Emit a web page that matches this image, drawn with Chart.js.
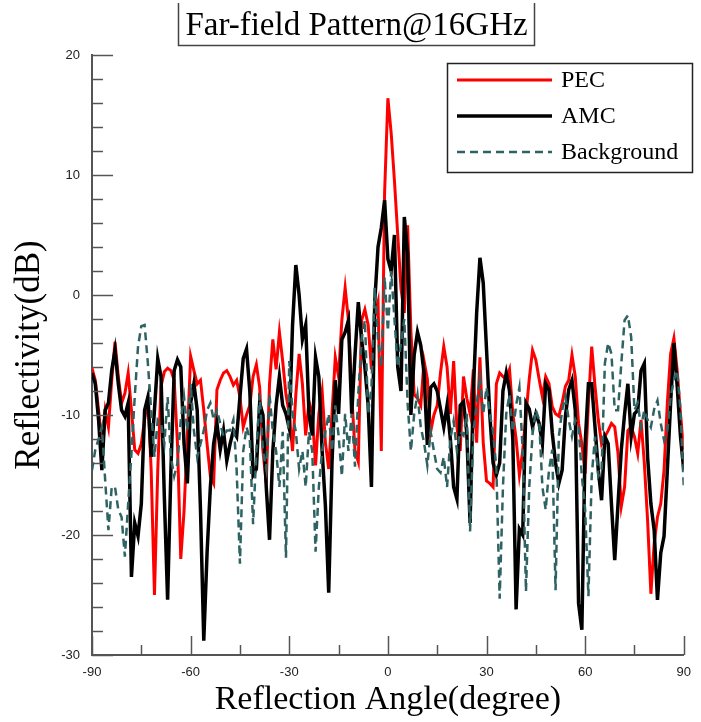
<!DOCTYPE html>
<html>
<head>
<meta charset="utf-8">
<title>Far-field Pattern@16GHz</title>
<script src="https://cdn.jsdelivr.net/npm/chart.js@4.4.1/dist/chart.umd.min.js"></script>
<style>
  html, body { margin: 0; padding: 0; background: #ffffff; }
  #wrap { width: 701px; height: 722px; position: relative; }
  canvas { display: block; }
</style>
</head>
<body>
<div id="wrap"><canvas id="c" width="701" height="722"></canvas></div>
<script>
// Reflection angle samples (degree)
const angles = [
  -90,-89,-88,-87,-86,-85,-84,-83,-82,-81,-80,-79,-78,-77,-76,-75,-74,-73,-72,-71,
  -70,-69,-68,-67,-66,-65,-64,-63,-62,-61,-60,-59,-58,-57,-56,-55,-54,-53,-52,-51,
  -50,-49,-48,-47,-46,-45,-44,-43,-42,-41,-40,-39,-38,-37,-36,-35,-34,-33,-32,-31,
  -30,-29,-28,-27,-26,-25,-24,-23,-22,-21,-20,-19,-18,-17,-16,-15,-14,-13,-12,-11,
  -10,-9,-8,-7,-6,-5,-4,-3,-2,-1,0,1,2,3,4,5,6,7,8,9,
  10,11,12,13,14,15,16,17,18,19,20,21,22,23,24,25,26,27,28,29,
  30,31,32,33,34,35,36,37,38,39,40,41,42,43,44,45,46,47,48,49,
  50,51,52,53,54,55,56,57,58,59,60,61,62,63,64,65,66,67,68,69,
  70,71,72,73,74,75,76,77,78,79,80,81,82,83,84,85,86,87,88,89,90
];

// PEC reflectivity (dB)
const pec = [
  -6.1,-7.1,-9.6,-12.4,-9.6,-11.0,-7.1,-3.9,-6.8,-9.0,-8.2,-6.5,-9.6,-12.9,-13.2,-12.4,-10.4,-8.5,-14.6,-25.0,
  -14.6,-7.6,-6.4,-6.1,-6.3,-7.1,-12.4,-22.0,-18.0,-11.8,-5.1,-6.3,-7.4,-7.1,-9.6,-12.4,-15.1,-15.7,-7.9,-7.1,
  -6.5,-6.3,-6.8,-7.5,-7.1,-8.5,-11.0,-10.0,-9.2,-6.8,-5.8,-7.7,-13.0,-15.7,-7.4,-3.7,-6.2,-3.1,-5.5,-8.3,
  -9.9,-13.0,-8.3,-4.9,-7.4,-11.7,-8.9,-9.9,-14.2,-9.9,-8.0,-12.3,-14.5,-9.9,-5.2,-6.8,-2.1,0.6,-2.1,-8.3,
  -13.0,-13.9,-2.1,-1.2,-2.5,-6.2,-1.8,-0.6,-13.0,8.5,16.4,13.5,9.5,5.0,0.5,-1.5,5.8,-3.0,-8.3,-8.6,
  -9.2,-5.5,-7.0,-11.4,-10.0,-9.2,-6.5,-4.3,-6.0,-9.9,-5.5,-11.0,-13.0,-6.8,-8.6,-9.9,-6.2,-12.3,-5.2,-12.3,
  -15.5,-15.7,-16.0,-7.4,-6.5,-6.8,-7.0,-6.2,-9.9,-12.0,-15.0,-13.0,-10.0,-7.0,-4.6,-5.4,-7.0,-8.5,-6.8,-7.4,
  -9.3,-9.9,-10.1,-9.0,-7.6,-7.1,-5.0,-6.8,-10.7,-12.4,-14.9,-9.0,-4.3,-7.6,-10.4,-12.4,-11.8,-11.3,-10.7,-11.0,
  -13.2,-17.6,-16.0,-11.3,-11.0,-11.8,-13.2,-10.4,-14.0,-18.8,-24.9,-20.7,-18.5,-17.4,-14.6,-9.0,-4.9,-3.6,-6.3,-9.9,-12.9
];

// AMC reflectivity (dB)
const amc = [
  -6.5,-7.4,-10.4,-14.6,-9.6,-9.0,-6.3,-4.6,-7.4,-9.6,-10.1,-9.0,-23.5,-19.0,-20.1,-17.4,-9.6,-8.5,-13.5,-9.6,
  -5.3,-6.8,-16.8,-25.4,-14.6,-6.3,-5.4,-6.0,-12.4,-15.7,-9.0,-7.4,-9.6,-17.9,-28.8,-21.5,-16.0,-12.4,-10.7,-12.9,
  -11.3,-13.8,-12.4,-11.3,-11.8,-8.5,-5.3,-4.5,-8.0,-15.0,-14.5,-9.0,-10.0,-16.0,-20.4,-13.0,-9.2,-6.8,-9.2,-9.9,
  -11.1,-2.5,2.5,0.0,-3.7,-2.5,-9.9,-11.7,-5.2,-6.8,-13.0,-17.6,-24.8,-14.0,-7.1,-9.9,-3.7,-3.1,-2.1,-9.9,
  -5.0,-0.6,-3.7,-6.0,-9.2,-16.0,-0.6,4.0,5.6,7.9,3.0,2.0,5.0,-6.0,-8.0,6.5,3.5,-10.0,-5.0,-3.1,
  -4.2,-6.5,-12.5,-7.7,-7.4,-8.0,-9.5,-11.0,-9.2,-12.0,-16.0,-17.0,-9.2,-8.9,-11.5,-19.0,-8.0,-1.5,3.1,1.0,
  -4.5,-10.0,-14.0,-15.0,-14.0,-8.0,-6.5,-8.0,-12.0,-26.2,-19.5,-20.0,-9.0,-9.5,-11.0,-9.9,-10.7,-12.4,-7.4,-7.9,
  -11.5,-14.0,-15.7,-14.6,-10.1,-7.9,-7.1,-9.6,-25.7,-27.9,-12.4,-7.4,-7.4,-11.0,-14.6,-17.1,-11.8,-12.4,-17.4,-22.1,
  -17.4,-12.9,-9.9,-7.4,-11.8,-9.9,-9.6,-6.3,-5.7,-13.5,-17.4,-19.6,-25.4,-21.5,-20.1,-14.6,-9.0,-4.0,-7.6,-11.8,-14.6
];

// Background reflectivity (dB)
const background = [
  -14.6,-12.9,-12.0,-11.0,-15.4,-19.6,-16.0,-16.0,-17.9,-18.5,-21.8,-17.4,-13.2,-8.5,-4.3,-2.6,-2.5,-5.7,-9.6,-13.5,
  -10.4,-10.7,-12.4,-8.5,-13.5,-15.1,-14.0,-10.4,-8.5,-11.3,-7.4,-11.3,-13.5,-12.4,-11.3,-9.6,-9.0,-10.4,-9.6,-10.7,
  -11.8,-11.3,-11.3,-10.4,-14.6,-22.4,-13.0,-11.0,-12.0,-19.1,-13.0,-8.3,-13.0,-14.5,-8.3,-11.4,-13.0,-16.0,-11.4,-21.9,
  -5.5,-9.9,-11.4,-14.5,-13.0,-16.0,-11.4,-13.0,-21.4,-16.0,-13.0,-11.4,-9.9,-13.0,-9.2,-11.7,-15.1,-9.9,-13.0,-9.9,
  -14.3,-8.3,-3.7,-2.1,-9.9,-7.7,0.6,-3.7,-6.0,1.5,-3.0,2.0,-2.0,-6.0,-4.0,-2.0,-9.0,-13.0,-9.9,-8.3,
  -11.0,-12.3,-14.2,-11.4,-13.0,-14.5,-14.8,-13.5,-16.0,-12.0,-10.5,-13.0,-11.4,-11.7,-9.9,-19.7,-11.4,-9.2,-6.8,-9.9,
  -7.7,-9.9,-11.4,-14.5,-25.3,-16.0,-9.9,-8.3,-11.4,-9.2,-7.7,-13.0,-24.7,-16.0,-11.6,-9.6,-10.4,-16.0,-17.9,-14.6,
  -12.9,-24.6,-11.8,-9.6,-8.5,-10.4,-11.8,-10.4,-11.0,-15.1,-17.9,-25.1,-15.1,-11.8,-15.1,-14.6,-5.7,-4.0,-4.9,-9.6,
  -9.6,-5.7,-2.1,-1.7,-3.5,-9.6,-9.0,-11.0,-9.6,-10.4,-11.0,-9.5,-8.8,-10.7,-12.1,-11.3,-8.5,-7.1,-6.3,-9.6,-16.0
];

const xTicks = [-90, -60, -30, 0, 30, 60, 90];
const yTicks = [-30, -20, -10, 0, 10, 20];

const toPoints = (vals) => angles.map((a, i) => ({ x: a, y: vals[i] }));

const serif = '"Liberation Serif", "Times New Roman", Times, serif';
const sans = '"Liberation Sans Narrow", "Liberation Sans", Arial, sans-serif';
const axisColor = '#555555';

// Inward-pointing major/minor tick marks along the left and bottom axes
const innerTicks = {
  id: 'innerTicks',
  afterDraw(chart) {
    const { ctx, chartArea } = chart;
    const xs = chart.scales.x, ys = chart.scales.y;
    ctx.save();
    ctx.strokeStyle = axisColor;
    ctx.lineWidth = 1.5;
    for (let v = -90; v <= 90; v += 15) {
      const px = Math.round(xs.getPixelForValue(v)) + 0.5;
      const len = (v % 30 === 0) ? 19 : 10;
      ctx.beginPath();
      ctx.moveTo(px, chartArea.bottom);
      ctx.lineTo(px, chartArea.bottom - len);
      ctx.stroke();
    }
    for (let v = -30; v <= 20; v += 2) {
      const py = Math.round(ys.getPixelForValue(v)) + 0.5;
      const len = (v % 10 === 0) ? 21 : 11;
      ctx.beginPath();
      ctx.moveTo(chartArea.left, py);
      ctx.lineTo(chartArea.left + len, py);
      ctx.stroke();
    }
    ctx.restore();
  }
};

// Boxed title and boxed legend
const frames = {
  id: 'frames',
  afterDraw(chart) {
    const { ctx } = chart;
    ctx.save();
    // title
    ctx.strokeStyle = '#444444';
    ctx.lineWidth = 1.5;
    ctx.beginPath();
    ctx.moveTo(178.5, 3);
    ctx.lineTo(178.5, 45.5);
    ctx.lineTo(534.5, 45.5);
    ctx.lineTo(534.5, 3);
    ctx.stroke();
    ctx.fillStyle = '#000000';
    ctx.font = '33px ' + serif;
    ctx.textAlign = 'center';
    ctx.textBaseline = 'middle';
    ctx.fillText('Far-field Pattern@16GHz', 356.5, 26);

    // legend
    ctx.strokeStyle = '#222222';
    ctx.lineWidth = 1.5;
    ctx.strokeRect(447.5, 63.5, 245, 109);
    const rows = [80, 116, 152];
    ctx.font = '24px ' + serif;
    ctx.textAlign = 'left';
    ctx.textBaseline = 'middle';
    chart.data.datasets.forEach((ds, r) => {
      ctx.save();
      ctx.strokeStyle = ds.borderColor;
      ctx.lineWidth = ds.borderWidth;
      ctx.setLineDash(ds.borderDash || []);
      ctx.beginPath();
      ctx.moveTo(457, rows[r]);
      ctx.lineTo(552, rows[r]);
      ctx.stroke();
      ctx.restore();
      ctx.fillStyle = '#000000';
      ctx.fillText(ds.label, 561, rows[r] + 1);
    });
    ctx.restore();
  }
};

new Chart(document.getElementById('c'), {
  type: 'line',
  data: {
    datasets: [
      { label: 'PEC', data: toPoints(pec), borderColor: '#ff0000', borderWidth: 3,
        pointRadius: 0, tension: 0, fill: false, order: 3 },
      { label: 'AMC', data: toPoints(amc), borderColor: '#000000', borderWidth: 3.5,
        pointRadius: 0, tension: 0, fill: false, order: 2 },
      { label: 'Background', data: toPoints(background), borderColor: '#2f6262', borderWidth: 2.5,
        borderDash: [8, 5], pointRadius: 0, tension: 0, fill: false, order: 1 }
    ]
  },
  options: {
    responsive: false,
    animation: false,
    devicePixelRatio: 1,
    layout: { padding: { top: 55, right: 9, bottom: 0, left: 0 } },
    plugins: { legend: { display: false }, tooltip: { enabled: false }, title: { display: false } },
    scales: {
      x: {
        type: 'linear',
        min: -90, max: 90,
        afterBuildTicks: (s) => { s.ticks = xTicks.map(v => ({ value: v })); },
        afterFit: (s) => { s.height = 67; },
        grid: { display: true, drawOnChartArea: false, drawTicks: false },
        border: { display: true, color: axisColor, width: 2 },
        ticks: { padding: 10, color: '#222222', font: { family: sans, size: 13 }, maxRotation: 0 },
        title: { display: true, text: 'Reflection Angle(degree)', color: '#000000',
                 font: { family: serif, size: 34 }, padding: { top: 0, bottom: 2 } }
      },
      y: {
        type: 'linear',
        min: -30, max: 20,
        afterBuildTicks: (s) => { s.ticks = yTicks.map(v => ({ value: v })); },
        afterFit: (s) => { s.width = 92; },
        grid: { display: true, drawOnChartArea: false, drawTicks: false },
        border: { display: true, color: axisColor, width: 2 },
        ticks: { padding: 12, color: '#222222', font: { family: sans, size: 13 } },
        title: { display: true, text: 'Reflectivity(dB)', color: '#000000',
                 font: { family: serif, size: 35 }, padding: { top: 9, bottom: 0 } }
      }
    }
  },
  plugins: [innerTicks, frames]
});
</script>
</body>
</html>
